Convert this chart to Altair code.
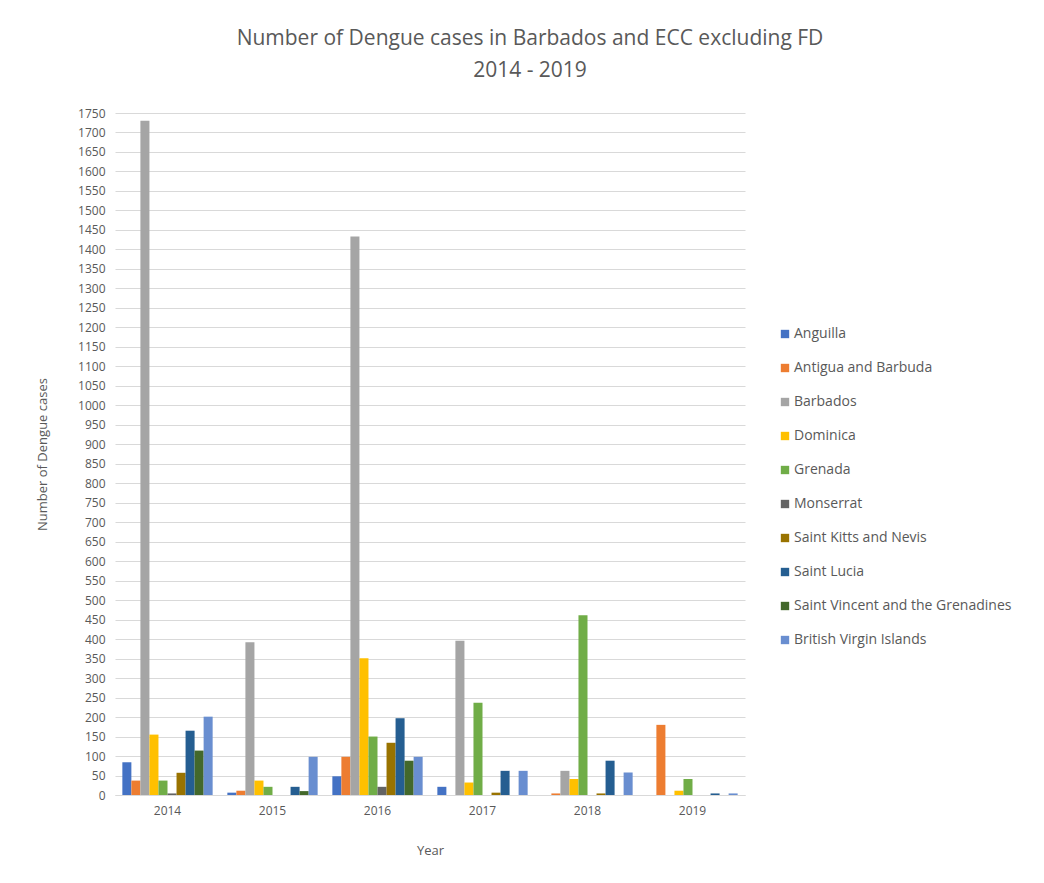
import altair as alt
import pandas as pd

years = ["2014", "2015", "2016", "2017", "2018", "2019"]
countries = ["Anguilla", "Antigua and Barbuda", "Barbados", "Dominica", "Grenada",
             "Monserrat", "Saint Kitts and Nevis", "Saint Lucia",
             "Saint Vincent and the Grenadines", "British Virgin Islands"]
colors = ["#4472C4", "#ED7D31", "#A5A5A5", "#FFC000", "#70AD47",
          "#636363", "#997300", "#255E91", "#43682B", "#698ED0"]

anguilla = [84, 6, 48, 21, 0, 0]
antigua = [37, 11, 98, 0, 4, 180]
barbados = [1730, 392, 1433, 396, 62, 0]
dominica = [155, 37, 351, 32, 41, 11]
grenada = [37, 21, 150, 237, 461, 41]
monserrat = [4, 0, 21, 0, 0, 0]
kitts = [57, 0, 134, 6, 4, 0]
lucia = [165, 21, 197, 62, 88, 4]
vincent = [114, 10, 88, 0, 0, 0]
bvi = [201, 98, 98, 62, 58, 4]

series = [anguilla, antigua, barbados, dominica, grenada, monserrat, kitts, lucia, vincent, bvi]
rows = []
for c, vals in zip(countries, series):
    for y, v in zip(years, vals):
        rows.append({"Year": y, "Country": c, "Cases": v})
df = pd.DataFrame(rows)

grey = "#595959"
chart = alt.Chart(df).mark_bar().encode(
    x=alt.X("Year:N", sort=years,
            scale=alt.Scale(paddingInner=0.14, paddingOuter=0.07),
            axis=alt.Axis(title="Year", labelAngle=0, labelFontSize=12, labelColor=grey,
                          titleFontSize=13, titleColor=grey, titleFontWeight="normal",
                          ticks=False, domainColor="#D9D9D9", labelPadding=10, titlePadding=28)),
    xOffset=alt.XOffset("Country:N", sort=countries, scale=alt.Scale(paddingInner=0, paddingOuter=0)),
    y=alt.Y("Cases:Q",
            scale=alt.Scale(domain=[0, 1750], nice=False),
            axis=alt.Axis(title="Number of Dengue cases", values=list(range(0, 1751, 50)),
                          format="d",
                          labelFontSize=12, labelColor=grey, titleFontSize=13, titleColor=grey,
                          titleFontWeight="normal", ticks=False, domain=False,
                          gridColor="#D9D9D9", labelPadding=10, titlePadding=28)),
    color=alt.Color("Country:N", sort=countries,
                    scale=alt.Scale(domain=countries, range=colors),
                    legend=alt.Legend(title=None, orient="none", legendX=663, legendY=214,
                                      symbolType="square", symbolSize=70, symbolStrokeWidth=0,
                                      labelFontSize=14, labelColor=grey, rowPadding=20,
                                      labelLimit=400, labelOffset=2)),
).properties(
    width=630, height=682,
    title=alt.TitleParams(["Number of Dengue cases in Barbados and ECC excluding FD", "2014  - 2019"],
                          fontSize=21, color=grey, fontWeight="normal", lineHeight=32,
                          anchor="middle", dx=100, offset=26),
    padding={"left": 107, "top": 105, "right": 290, "bottom": 75},
    autosize=alt.AutoSizeParams(type="none"),
).configure(font="Open Sans").configure_view(stroke=None)

chart.save("out.html", embed_options={"renderer": "svg", "actions": False})
